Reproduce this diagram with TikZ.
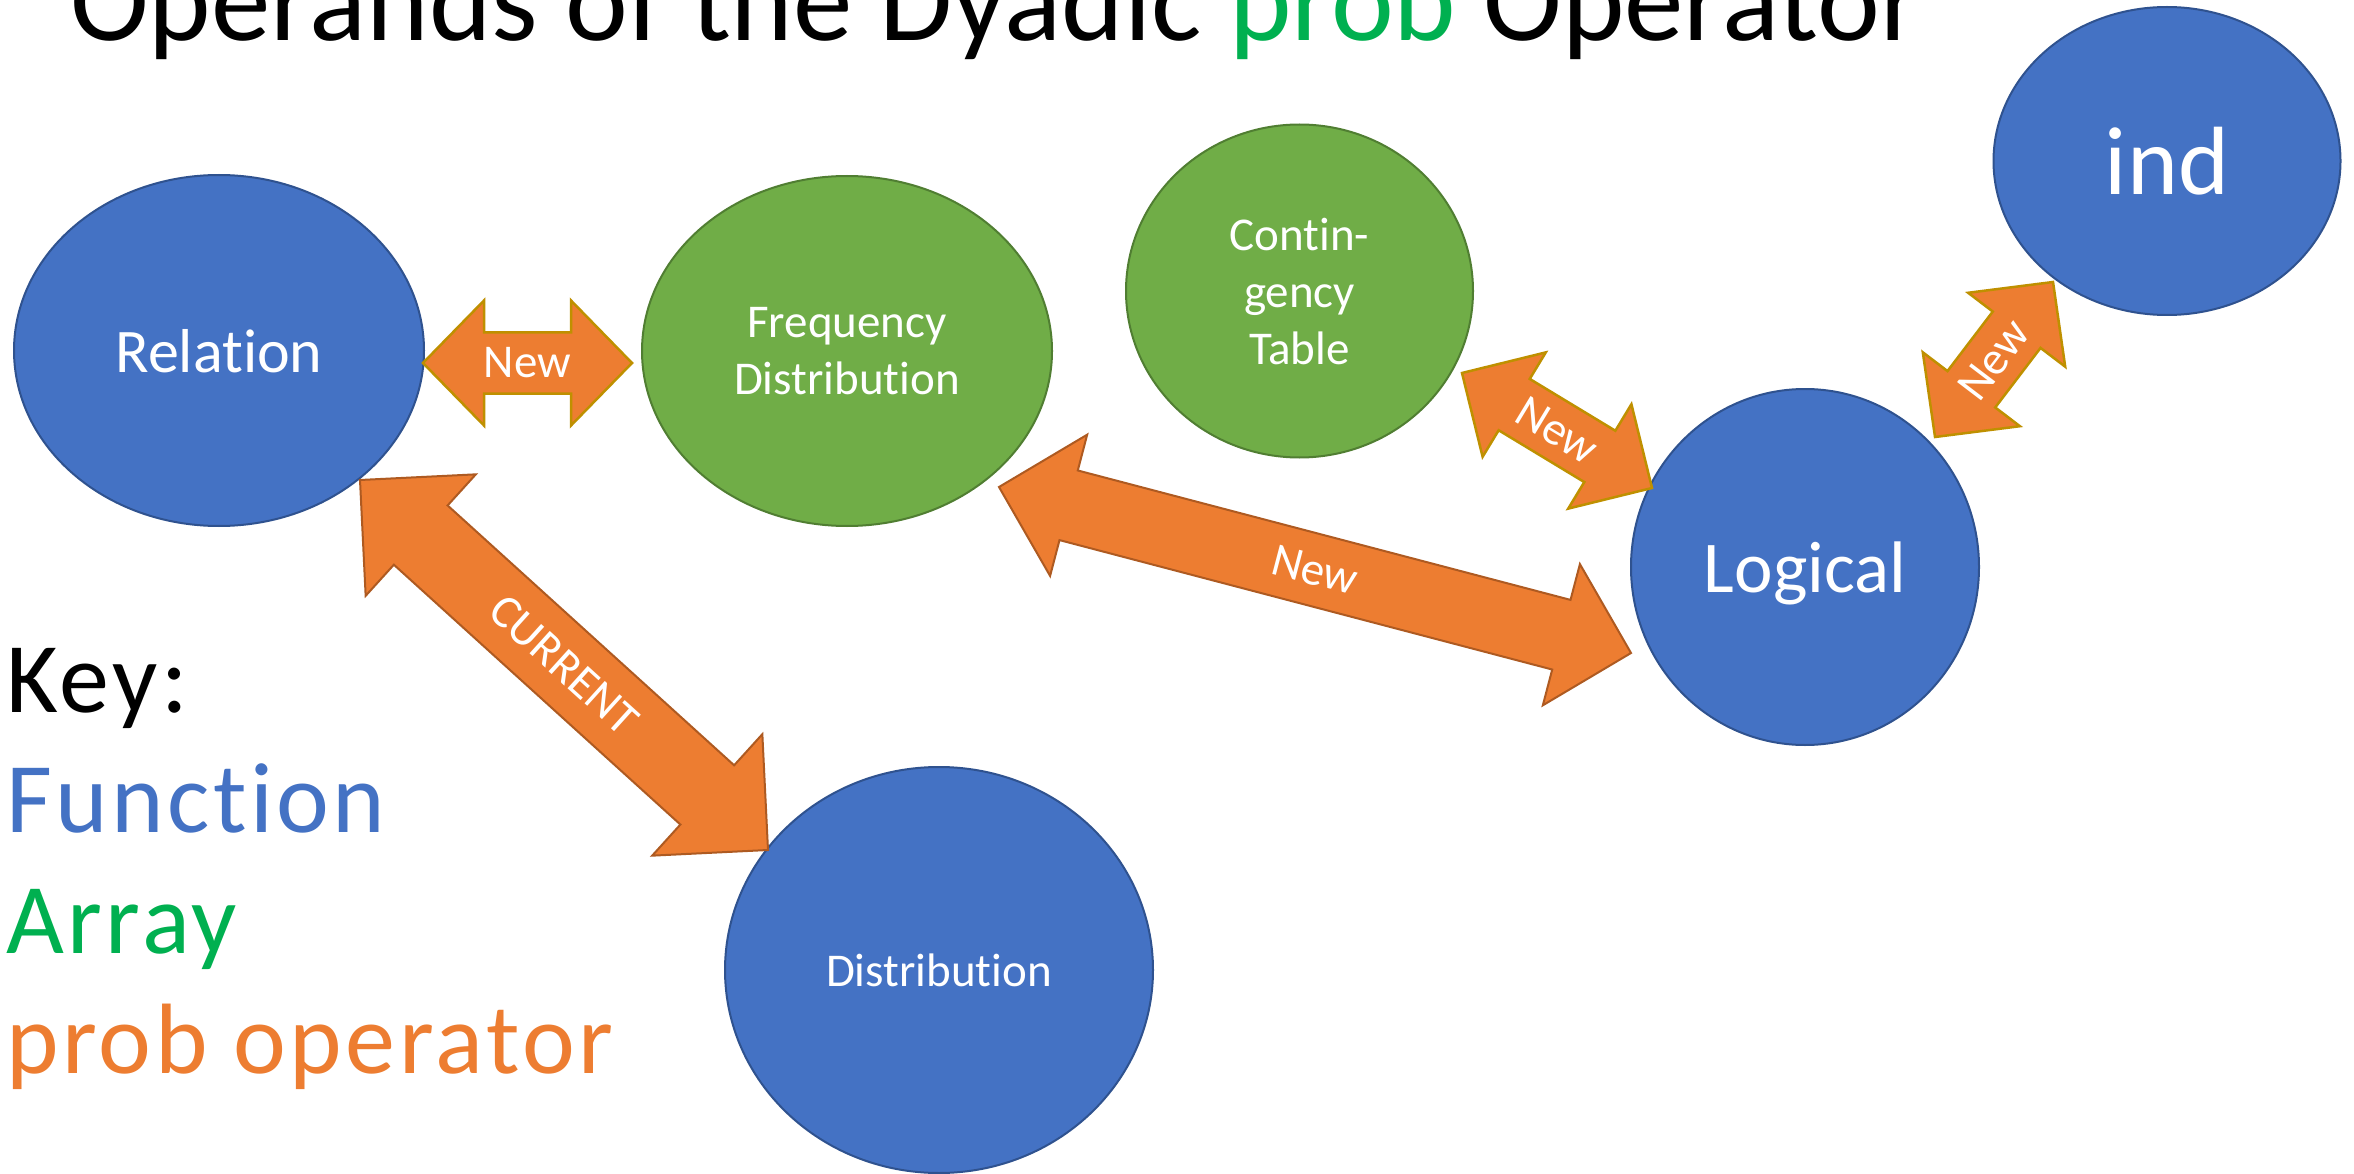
\documentclass[tikz,border=0pt]{standalone}
\usepackage{fontspec}
\setmainfont{Carlito}[Ligatures=NoCommon]
\newfontfamily\keyfont[LetterSpace=3.5,Ligatures=NoCommon]{Carlito}
\usetikzlibrary{shapes.geometric,calc}

\definecolor{fnfill}{HTML}{4472C4}
\definecolor{fnedge}{HTML}{2F528F}
\definecolor{arrfill}{HTML}{70AD47}
\definecolor{arredge}{HTML}{507E32}
\definecolor{opfill}{HTML}{ED7D31}
\definecolor{opgold}{HTML}{BF9000}
\definecolor{opedge}{HTML}{AE5A21}
\definecolor{keygreen}{HTML}{00B050}

% Double-headed block arrow between two named points:
% #1 from, #2 to, #3 shaft half-width, #4 head half-width, #5 head length,
% #6 drawing options, #7 label
\newcommand\dblarrow[7]{%
  \draw[#6] (#1)
    -- ($(#1)!#5!(#2)!#4!90:(#2)$)
    -- ($(#1)!#5!(#2)!#3!90:(#2)$)
    -- ($(#2)!#5!(#1)!#3!-90:(#1)$)
    -- ($(#2)!#5!(#1)!#4!-90:(#1)$)
    -- (#2)
    -- ($(#2)!#5!(#1)!#4!90:(#1)$)
    -- ($(#2)!#5!(#1)!#3!90:(#1)$)
    -- ($(#1)!#5!(#2)!#3!-90:(#2)$)
    -- ($(#1)!#5!(#2)!#4!-90:(#2)$)
    -- cycle;
  \path (#1) -- (#2) node[midway, sloped, arrowlabel] {#7};
}

\begin{document}
\begin{tikzpicture}[x=1pt, y=-1pt,
  oval/.style={ellipse, inner sep=0pt, line width=2pt, text=white, align=center, text depth=0pt},
  fnoval/.style={oval, fill=fnfill, draw=fnedge},
  arroval/.style={oval, fill=arrfill, draw=arredge},
  smallfont/.style={font=\fontsize{47}{57}\selectfont},
  goldarrow/.style={fill=opfill, draw=opgold, line width=2.5pt, line join=miter},
  rustarrow/.style={fill=opfill, draw=opedge, line width=2pt, line join=miter},
  arrowlabel/.style={text=white, inner sep=0pt, font=\fontsize{47}{57}\selectfont},
  keyline/.style={anchor=base west, inner sep=0pt, font=\keyfont\fontsize{100}{120}\selectfont}]

\useasboundingbox (0,0) rectangle (2354,1174);
\fill[white] (0,0) rectangle (2354,1174);

% heading, its top runs off the page
\node[anchor=base west, inner sep=0pt, font=\fontsize{119}{142}\selectfont] (title) at (70,41)
  {Operands of the Dyadic \textcolor{keygreen}{prob} Operator};

% operands
\node[fnoval, minimum width=410pt, minimum height=351pt, font=\fontsize{62}{74}\selectfont] (rel) at (219,350.5) {Relation};
\node[arroval, smallfont, minimum width=410pt, minimum height=350pt] (freq) at (847,351) {Frequency\\Distribution};
\node[arroval, smallfont, minimum width=347pt, minimum height=333pt] (cont) at (1299.5,291) {Contin-\\gency\\Table};
\node[fnoval, minimum width=347pt, minimum height=308pt, font=\fontsize{97}{116}\selectfont] (ind) at (2167,161) {ind};
\node[fnoval, minimum width=348pt, minimum height=356pt, font=\fontsize{73}{88}\selectfont] (logic) at (1805,567) {Logical};
\node[fnoval, smallfont, minimum width=428pt, minimum height=406pt] (dist) at (939,970) {Distribution};

% arrow end points
\coordinate (relR) at (423,363);
\coordinate (freqL) at (632,363);
\coordinate (relB) at (360,480);
\coordinate (distT) at (768,850);
\coordinate (freqB) at (999,487);
\coordinate (logicL) at (1631,653);
\coordinate (contB) at (1462,373);
\coordinate (logicT) at (1652,488);
\coordinate (logicR) at (1935,437);
\coordinate (indB) at (2053,282);

% prob operator arrows
\dblarrow{relR}{freqL}{30.5pt}{62.5pt}{61pt}{goldarrow}{New}
\dblarrow{relB}{distT}{40pt}{82pt}{82pt}{rustarrow}{CURRENT}
\dblarrow{freqB}{logicL}{36pt}{73pt}{72pt}{rustarrow}{New}
\dblarrow{contB}{logicT}{30pt}{61pt}{61pt}{goldarrow}{New}
\dblarrow{logicR}{indB}{30pt}{61pt}{60pt}{goldarrow}{New}

% key
\node[keyline] (keyhead) at (6,712) {Key:};
\node[keyline, text=fnfill] (keyfn) at (6,832) {Function};
\node[keyline, text=keygreen] (keyarr) at (6,953) {Array};
\node[keyline, text=opfill] (keyop) at (6,1073) {prob operator};

\end{tikzpicture}
\end{document}
